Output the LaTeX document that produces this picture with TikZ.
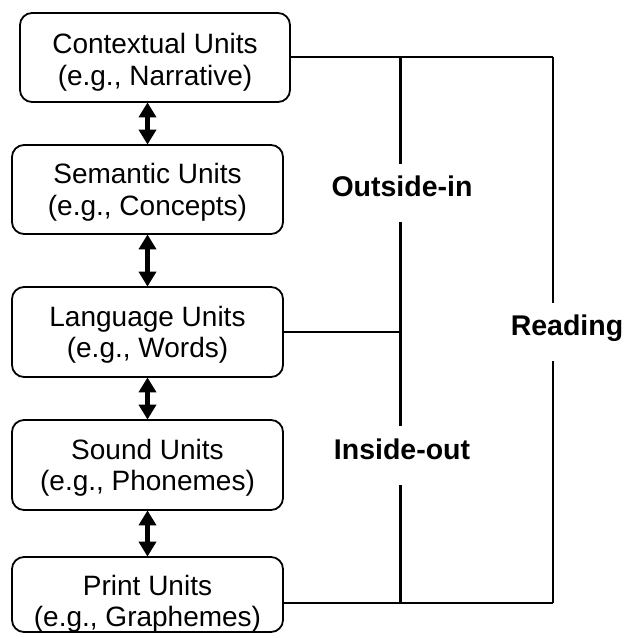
\documentclass[tikz,border=0pt]{standalone}
\usepackage{fontspec}
\setmainfont{Liberation Sans}
\usetikzlibrary{arrows.meta}
\newcommand{\topstrut}[1]{\rule{0pt}{#1}}
\begin{document}
\begin{tikzpicture}[x=1pt,y=-1pt,
  unitbox/.style={draw, line width=1.8pt, rounded corners=12pt, minimum width=271pt, inner sep=0pt, align=center, font=\fontsize{28}{31.5}\selectfont},
  boxtext/.style={inner sep=0pt, align=center, font=\fontsize{28}{31}\selectfont},
  biarrow/.style={line width=4.5pt, {Triangle[width=17pt,length=15pt]}-{Triangle[width=17pt,length=15pt]}, shorten <=-0.5pt, shorten >=-0.5pt},
  conn/.style={line width=2.6pt},
  grouplabel/.style={inner sep=0pt, font=\bfseries\fontsize{28.5}{32}\selectfont, text height=1em, text depth=0.284em}
]
\useasboundingbox (0,0) rectangle (625,639);

\node[unitbox, minimum height=89pt, minimum width=270pt] (b1) at (155,57.5) {\topstrut{30pt}Contextual Units\\(e.g., Narrative)};
\node[unitbox, minimum height=89pt] (b2) at (147.5,189.5) {\topstrut{26pt}Semantic Units\\(e.g., Concepts)};
\node[unitbox, minimum height=90pt] (b3) at (147.5,332) {\topstrut{26pt}Language Units\\(e.g., Words)};
\node[unitbox, minimum height=90pt] (b4) at (147.5,465) {\topstrut{26pt}Sound Units\\(e.g., Phonemes)};
\node[unitbox, minimum height=75pt] (b5) at (147.5,594.5) {};
\node[boxtext] (b5t) at (147.5,604) {Print Units\\(e.g., Graphemes)};

\draw[biarrow] (b1.south -| b2.north) -- (b2.north);
\draw[biarrow] (b2.south) -- (b3.north);
\draw[biarrow] (b3.south) -- (b4.north);
\draw[biarrow] (b4.south) -- (b5.north);

\coordinate (it) at (400.5,57);
\coordinate (ib) at (400.5,603);
\coordinate (ot) at (553,57);
\coordinate (ob) at (553,603);

\node[grouplabel, minimum height=58pt] (oi) at (402,193) {Outside-in};
\node[grouplabel, minimum height=59pt] (io) at (402,455.5) {Inside-out};
\node[grouplabel, minimum height=58pt] (rd) at (567,332) {Reading};

\draw[conn] (b1.east |- it) -- (ot);
\draw[conn] (b3.east) -- (b3.east -| it);
\draw[conn] (ib -| b5.east) -- (ob);
\draw[conn] (it) -- (it |- oi.north);
\draw[conn] (it |- oi.south) -- (it |- io.north);
\draw[conn] (it |- io.south) -- (ib);
\draw[conn] (ot) -- (ot |- rd.north);
\draw[conn] (ot |- rd.south) -- (ob);
\end{tikzpicture}
\end{document}
